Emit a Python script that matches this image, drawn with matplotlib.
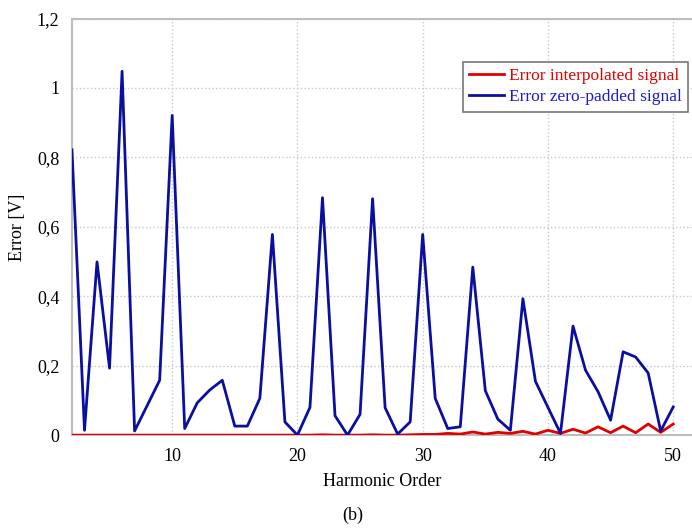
import numpy as np
import matplotlib.pyplot as plt

# harmonic orders 2..50
harmonics = list(range(2, 51))

# error of the zero-padded signal (blue)
err_zero_padded = [
    0.822, 0.014, 0.499, 0.193, 1.048, 0.012, 0.085, 0.158, 0.921, 0.019,  # 2-11
    0.093, 0.130, 0.158, 0.026, 0.026, 0.106, 0.578, 0.038, 0.000, 0.080,  # 12-21
    0.684, 0.056, 0.000, 0.060, 0.681, 0.079, 0.003, 0.038, 0.578, 0.106,  # 22-31
    0.019, 0.024, 0.484, 0.128, 0.046, 0.014, 0.393, 0.155, 0.080, 0.005,  # 32-41
    0.314, 0.187, 0.125, 0.043, 0.240, 0.225, 0.179, 0.012, 0.081,        # 42-50
]

# error of the interpolated signal (red)
err_interpolated = [
    0.000, 0.000, 0.000, 0.000, 0.000, 0.000, 0.000, 0.000, 0.000, 0.000,  # 2-11
    0.000, 0.000, 0.000, 0.000, 0.000, 0.000, 0.000, 0.000, 0.000, 0.000,  # 12-21
    0.001, 0.000, 0.000, 0.000, 0.001, 0.000, 0.000, 0.001, 0.002, 0.002,  # 22-31
    0.005, 0.003, 0.009, 0.003, 0.008, 0.005, 0.011, 0.003, 0.014, 0.005,  # 32-41
    0.017, 0.006, 0.024, 0.007, 0.026, 0.007, 0.032, 0.008, 0.032,        # 42-50
]

y_ticks = [0, 0.2, 0.4, 0.6, 0.8, 1.0, 1.2]
y_tick_labels = ["0", "0,2", "0,4", "0,6", "0,8", "1", "1,2"]
x_ticks = [10, 20, 30, 40, 50]

plt.rcParams['font.family'] = ['Liberation Serif', 'DejaVu Serif']

fig = plt.figure(figsize=(6.92, 5.30), dpi=100)
ax = fig.add_axes([0.104, 0.179, 0.896, 0.786])

ax.plot(harmonics, err_interpolated, color="#e00000", lw=2,
        label="Error interpolated signal", zorder=3)
ax.plot(harmonics, err_zero_padded, color="#0a0fa0", lw=2,
        label="Error zero-padded signal", zorder=4)

ax.set_xlim(2, 51.5)
ax.set_ylim(0, 1.2)
ax.set_xticks(x_ticks)
ax.set_yticks(y_ticks)
ax.set_yticklabels(y_tick_labels)
ax.tick_params(length=0, labelsize=13, pad=9)

ax.grid(True, color="#c8c8c8", linestyle=":", linewidth=1)
for s in ax.spines.values():
    s.set_color("#bdbdbd")
    s.set_linewidth(1.5)
ax.spines['right'].set_visible(False)

ax.set_xlabel("Harmonic Order", fontsize=13, labelpad=6)
ax.set_ylabel("Error [V]", fontsize=13, labelpad=8)

leg = ax.legend(loc="upper right", bbox_to_anchor=(0.994, 0.896),
                borderaxespad=0, fancybox=False, fontsize=12.5,
                handlelength=2.0, handletextpad=0.3, borderpad=0.35,
                labelspacing=0.3)
leg.get_frame().set_edgecolor("#555555")
leg.get_frame().set_linewidth(1.2)
for txt, col in zip(leg.get_texts(), ["#e00000", "#1a1ad0"]):
    txt.set_color(col)

fig.text(0.51, 0.028, "(b)", ha="center", va="center", fontsize=13)

fig.savefig("out.png", dpi=100)
